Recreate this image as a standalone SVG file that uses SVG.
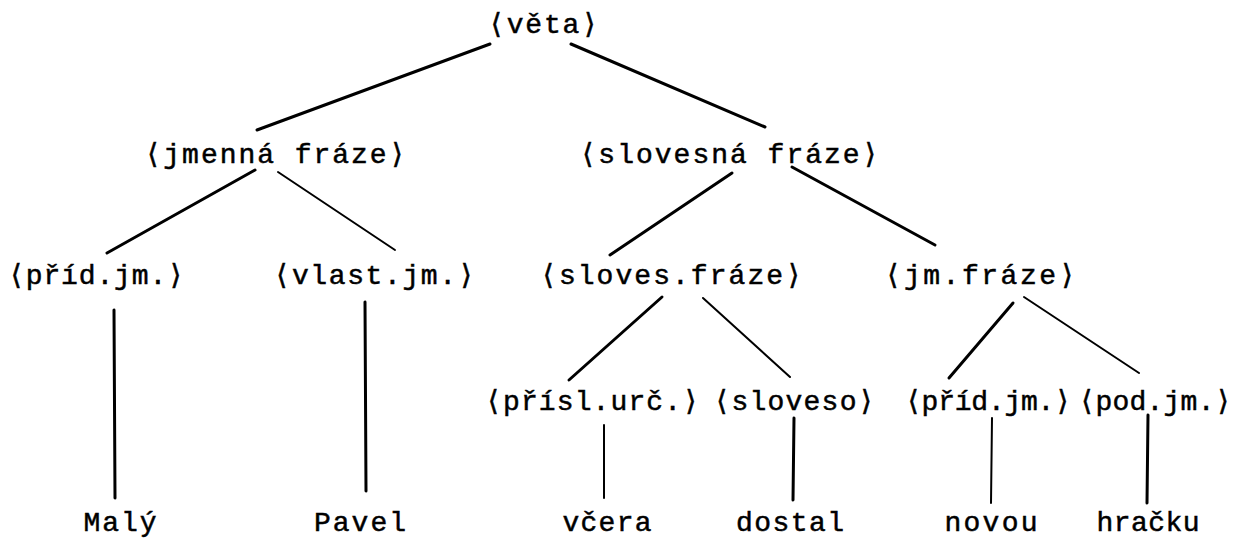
<svg xmlns="http://www.w3.org/2000/svg" width="1249" height="539" viewBox="0 0 1249 539">
<style>
text{font-family:"Liberation Mono","DejaVu Sans Mono",monospace;font-size:28px;fill:#000;text-anchor:middle;stroke:#000;stroke-width:0.5}
.c line{stroke:#000;stroke-width:3;stroke-linecap:round}
.c line.t{stroke-width:2}
</style>
<rect width="1249" height="539" fill="#fff"/>
<g class="c" id="connectors">
<line x1="490" y1="44" x2="257" y2="130"/>
<line x1="571" y1="44" x2="765" y2="127"/>
<line x1="255" y1="170" x2="107" y2="253"/>
<line class="t" x1="278" y1="172" x2="395" y2="250"/>
<line x1="732" y1="173" x2="610" y2="255"/>
<line x1="792" y1="167" x2="935" y2="245"/>
<line x1="114" y1="310" x2="115" y2="498"/>
<line x1="365" y1="302" x2="366" y2="491"/>
<line x1="662" y1="297" x2="569" y2="380"/>
<line class="t" x1="703" y1="298" x2="790" y2="377"/>
<line x1="1013" y1="303" x2="949" y2="378"/>
<line class="t" x1="1024" y1="297" x2="1139" y2="373"/>
<line class="t" x1="604" y1="425" x2="604" y2="498"/>
<line x1="794" y1="418" x2="793" y2="500"/>
<line class="t" x1="992" y1="418" x2="991" y2="503"/>
<line x1="1148" y1="415" x2="1147" y2="503"/>
</g>
<g id="n-veta"><text x="543" y="33" textLength="110" lengthAdjust="spacing">⟨věta⟩</text></g>
<g id="n-jmenna-fraze"><text x="275" y="163" textLength="261" lengthAdjust="spacing">⟨jmenná fráze⟩</text></g>
<g id="n-slovesna-fraze"><text x="729" y="163" textLength="299" lengthAdjust="spacing">⟨slovesná fráze⟩</text></g>
<g id="n-prid-jm-1"><text x="96" y="284" textLength="176" lengthAdjust="spacing">⟨příd.jm.⟩</text></g>
<g id="n-vlast-jm"><text x="374" y="284" textLength="201" lengthAdjust="spacing">⟨vlast.jm.⟩</text></g>
<g id="n-sloves-fraze"><text x="671" y="284" textLength="262" lengthAdjust="spacing">⟨sloves.fráze⟩</text></g>
<g id="n-jm-fraze"><text x="980" y="284" textLength="191" lengthAdjust="spacing">⟨jm.fráze⟩</text></g>
<g id="n-prisl-urc"><text x="592" y="410" textLength="214" lengthAdjust="spacing">⟨přísl.urč.⟩</text></g>
<g id="n-sloveso"><text x="794" y="410" textLength="161" lengthAdjust="spacing">⟨sloveso⟩</text></g>
<g id="n-prid-jm-2"><text x="988" y="410" textLength="166" lengthAdjust="spacing">⟨příd.jm.⟩</text></g>
<g id="n-pod-jm"><text x="1155" y="410" textLength="153" lengthAdjust="spacing">⟨pod.jm.⟩</text></g>
<g id="w-maly"><text x="120" y="531" textLength="73" lengthAdjust="spacing">Malý</text></g>
<g id="w-pavel"><text x="360" y="531" textLength="92" lengthAdjust="spacing">Pavel</text></g>
<g id="w-vcera"><text x="607" y="531" textLength="89" lengthAdjust="spacing">včera</text></g>
<g id="w-dostal"><text x="790" y="531" textLength="108" lengthAdjust="spacing">dostal</text></g>
<g id="w-novou"><text x="991" y="531" textLength="93" lengthAdjust="spacing">novou</text></g>
<g id="w-hracku"><text x="1148" y="531" textLength="103" lengthAdjust="spacing">hračku</text></g>
</svg>
